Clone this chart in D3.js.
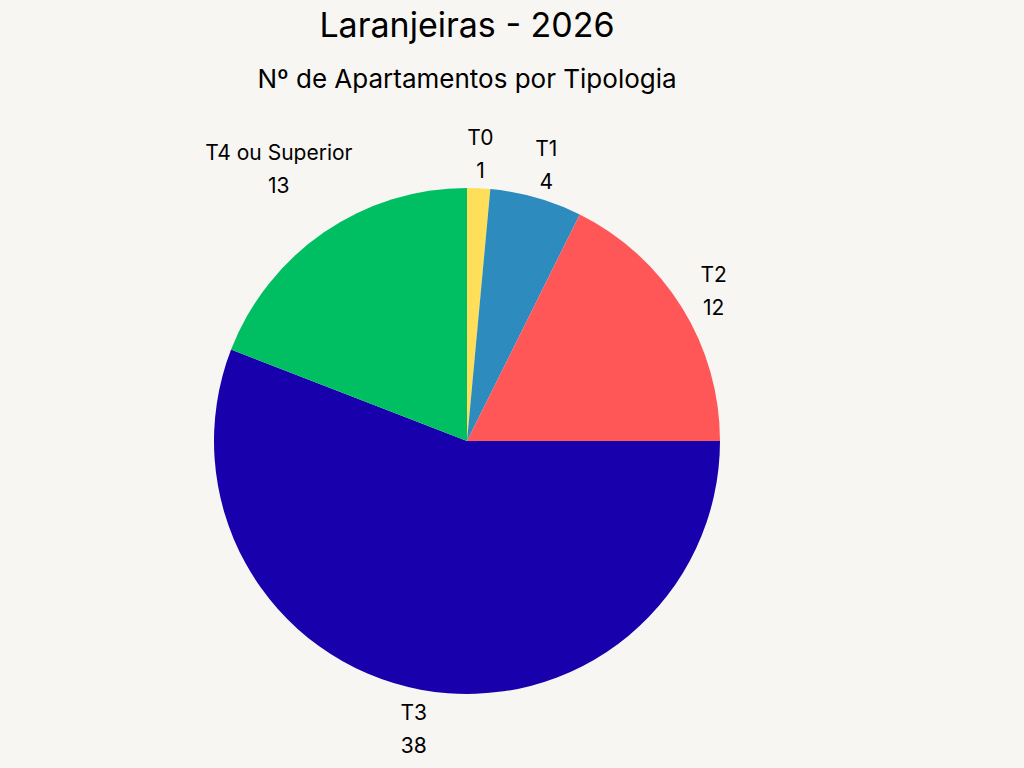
<!DOCTYPE html>
<head>
    <meta charset="utf-8">
    <script src="https://cdn.jsdelivr.net/npm/d3@7"></script>
    <style>
        body { margin: 0; background: #f8f6f2; }
        text { font-family: Inter, "Open Sans", sans-serif; fill: #000; }
    </style>
</head>
<body>
<script>
    // chart data
    var categories = ["T0", "T1", "T2", "T3", "T4 ou Superior"];
    var values = [1, 4, 12, 38, 13];
    var colors = ["#ffde59", "#2e8bbe", "#ff5757", "#1800ad", "#00bf63"];

    var width = 1024, height = 768,
        cx = 467, cy = 441, radius = 253;

    var svg = d3.select("body").append("svg")
        .attr("width", width)
        .attr("height", height);

    svg.append("text")
        .attr("x", cx).attr("y", 37)
        .attr("text-anchor", "middle")
        .style("font-size", "34px")
        .text("Laranjeiras - 2026");

    svg.append("text")
        .attr("x", cx).attr("y", 88)
        .attr("text-anchor", "middle")
        .style("font-size", "26px")
        .text("Nº de Apartamentos por Tipologia");

    var data = categories.map(function(c, i) {
        return { name: c, value: values[i], color: colors[i] };
    });

    var pie = d3.pie().sort(null).value(function(d) { return d.value; });
    var arc = d3.arc().innerRadius(0).outerRadius(radius);

    var g = svg.append("g").attr("transform", "translate(" + cx + "," + cy + ")");
    var arcs = pie(data);

    g.selectAll("path").data(arcs).enter().append("path")
        .attr("d", arc)
        .attr("fill", function(d) { return d.data.color; });

    // labels outside; wide labels pushed a bit further out
    var labels = g.selectAll("g.lbl").data(arcs).enter().append("g")
        .attr("class", "lbl")
        .attr("transform", function(d) {
            var a = (d.startAngle + d.endAngle) / 2;
            var r = d.data.name.length > 4 ? 333 : 290;
            return "translate(" + (Math.sin(a) * r) + "," + (-Math.cos(a) * r) + ")";
        });

    labels.append("text")
        .attr("text-anchor", "middle")
        .attr("y", -6)
        .style("font-size", "21px")
        .text(function(d) { return d.data.name; });

    labels.append("text")
        .attr("text-anchor", "middle")
        .attr("y", 27)
        .style("font-size", "21px")
        .text(function(d) { return d.data.value; });
</script>
</body>
